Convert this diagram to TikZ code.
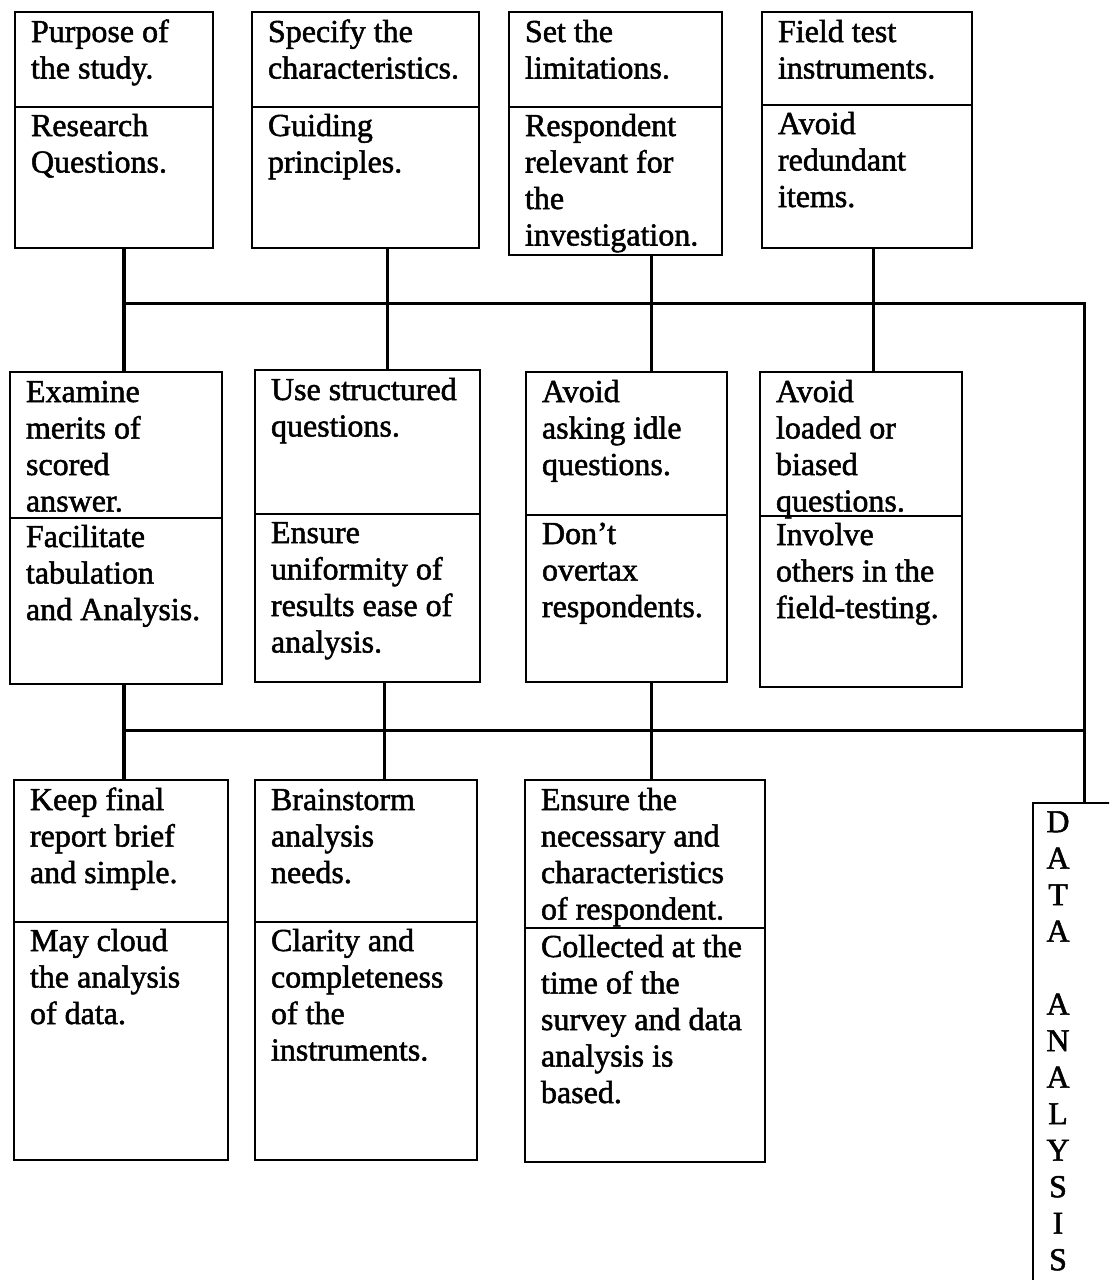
\documentclass[tikz,border=0pt]{standalone}
\usepackage{fontspec}
\setmainfont{Liberation Serif}[RawFeature={embolden=1.6}]
\tikzset{
  x=1pt, y=-1pt,
  boxshape/.style={draw, line width=2.6pt, rectangle, inner sep=0pt, outer sep=0pt},
  boxline/.style={line width=2.2pt},
  conn/.style={line width=3pt},
  thickconn/.style={line width=3.8pt},
  txt/.style={anchor=north west, inner sep=0pt, outer sep=0pt, align=left,
              font=\fontsize{32}{36.5}\selectfont},
}
% name, left, top, right, bottom, divider, top text, bottom text
\newcommand{\twobox}[8]{%
  \node[boxshape, anchor=north west, minimum width={(#4-#2)*1pt}, minimum height={(#5-#3)*1pt}] (#1) at (#2,#3) {};
  \draw[boxline] (#2,#6) -- (#4,#6);
  \node[txt] (#1t) at (#2+16,#3+6) {\rule{0pt}{24pt}#7};
  \node[txt] (#1b) at (#2+16,#6+5) {\rule{0pt}{24pt}#8};
}
\begin{document}
\begin{tikzpicture}
\clip (0,0) rectangle (1109,1280);
\fill[white] (0,0) rectangle (1109,1280);

% row 1
\twobox{b1}{15}{12}{213}{248}{107}{Purpose of\\the study.}{Research\\Questions.}
\twobox{b2}{252}{12}{479}{248}{107}{Specify the\\characteristics.}{Guiding\\principles.}
\twobox{b3}{509}{12}{722}{255}{107}{Set the\\limitations.}{Respondent\\relevant for\\the\\investigation.}
\twobox{b4}{762}{12}{972}{248}{105}{Field test\\instruments.}{Avoid\\redundant\\items.}

% row 2
\twobox{b5}{10}{372}{222}{684}{518}{Examine\\merits of\\scored\\answer.}{Facilitate\\tabulation\\and Analysis.}
\twobox{b6}{255}{370}{480}{682}{514}{Use structured\\questions.}{Ensure\\uniformity of\\results ease of\\analysis.}
\twobox{b7}{526}{372}{727}{682}{515}{Avoid\\asking idle\\questions.}{Don’t\\overtax\\respondents.}
\twobox{b8}{760}{372}{962}{687}{516}{Avoid\\loaded or\\biased\\questions.}{Involve\\others in the\\field-testing.}

% row 3
\twobox{b9}{14}{780}{228}{1160}{922}{Keep final\\report brief\\and simple.}{May cloud\\the analysis\\of data.}
\twobox{b10}{255}{780}{477}{1160}{922}{Brainstorm\\analysis\\needs.}{Clarity and\\completeness\\of the\\instruments.}
\twobox{b11}{525}{780}{765}{1162}{928}{Ensure the\\necessary and\\characteristics\\of respondent.}{Collected at the\\time of the\\survey and data\\analysis is\\based.}

% data analysis box (runs off the page)
\node[boxshape, anchor=north west, minimum width=120pt, minimum height=600pt] (da) at (1033,803) {};
\node[anchor=north, inner sep=0pt, align=center, font=\fontsize{32}{36.5}\selectfont] (dat) at (1058,808)
  {\rule{0pt}{24pt}D\\A\\T\\A\\[36.5pt]A\\N\\A\\L\\Y\\S\\I\\S};

% junctions
\coordinate (u1) at (124,303);
\coordinate (u2) at (387,303);
\coordinate (u3) at (651,303);
\coordinate (u4) at (873,303);
\coordinate (ur) at (1084,303);
\coordinate (l1) at (124,730);
\coordinate (l2) at (384,730);
\coordinate (l3) at (651,730);
\coordinate (lr) at (1084,730);

% upper connectors
\draw[thickconn] (b1.south -| u1) -- (b5.north -| u1);
\draw[conn] (b2.south -| u2) -- (b6.north -| u2);
\draw[conn] (b3.south -| u3) -- (b7.north -| u3);
\draw[conn] (b4.south -| u4) -- (b8.north -| u4);
\draw[conn] (u1) -- (ur) -- (da.north -| ur);

% lower connectors
\draw[thickconn] (b5.south -| l1) -- (b9.north -| l1);
\draw[conn] (b6.south -| l2) -- (b10.north -| l2);
\draw[conn] (b7.south -| l3) -- (b11.north -| l3);
\draw[conn] (l1) -- (lr);
\end{tikzpicture}
\end{document}
